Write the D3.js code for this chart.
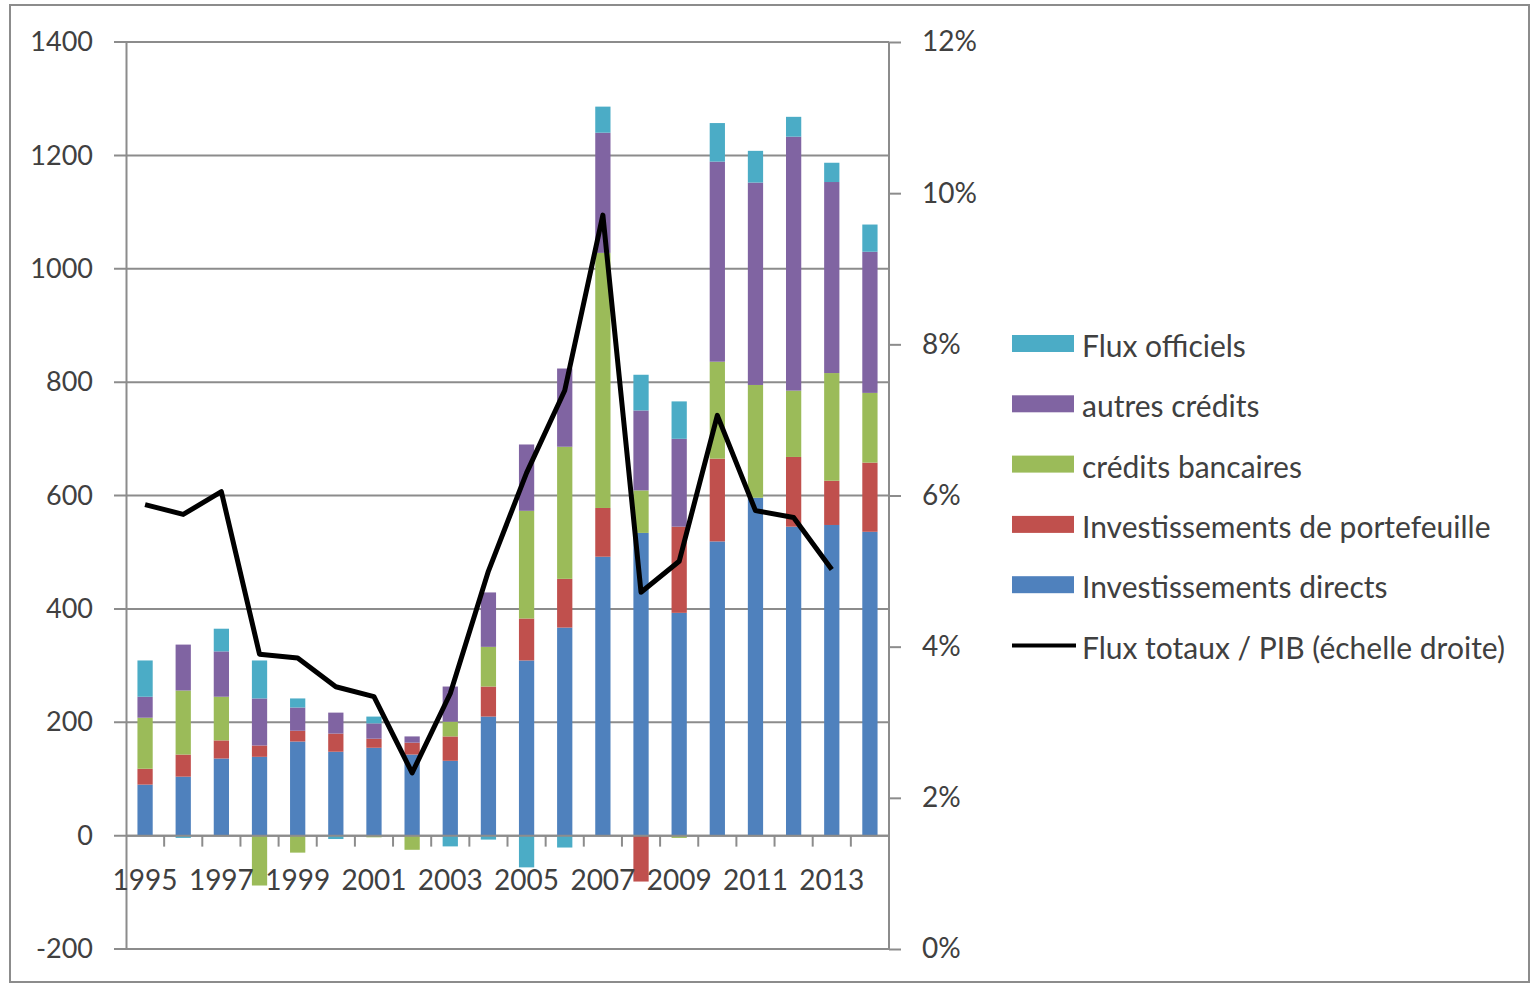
<!DOCTYPE html>
<html>
<head>
<meta charset="utf-8">
<script src="https://cdn.jsdelivr.net/npm/d3@7"></script>
<style>
  body { margin: 0; background: #fff; }
  text { font-family: Lato, "Noto Sans", sans-serif; fill: #404040; }
</style>
</head>
<body>
<div class="chart"></div>
<script>
var svgWidth = 1531;
var svgHeight = 984;

// data
var years = [1995, 1996, 1997, 1998, 1999, 2000, 2001, 2002, 2003, 2004,
             2005, 2006, 2007, 2008, 2009, 2010, 2011, 2012, 2013, 2014];
var directs      = [90, 104, 136, 139, 166, 148, 155, 143, 132, 210, 309, 367, 492, 534, 393, 519, 596, 545, 548, 536];
var portefeuille = [28, 39, 32, 20, 19, 32, 16, 21, 43, 53, 74, 86, 86, -81, 152, 146, 0, 123, 78, 122];
var bancaires    = [90, 113, 77, -88, -30, 0, -3, -25, 26, 70, 190, 233, 450, 75, -4, 171, 199, 117, 190, 123];
var autres       = [37, 81, 80, 83, 41, 37, 27, 11, 62, 96, 117, 138, 212, 141, 155, 353, 357, 448, 337, 249];
var officiels    = [64, -4, 40, 67, 16, -6, 12, 0, -19, -7, -56, -21, 46, 63, 66, 68, 56, 35, 34, 48];
var fluxPib      = [5.88, 5.75, 6.05, 3.9, 3.85, 3.47, 3.34, 2.33, 3.38, 5.0, 6.3, 7.39, 9.71, 4.72, 5.13, 7.06, 5.8, 5.71, 5.02, null];

var seriesKeys = ["directs", "portefeuille", "bancaires", "autres", "officiels"];
var seriesNames = {
    directs: "Investissements directs",
    portefeuille: "Investissements de portefeuille",
    bancaires: "crédits bancaires",
    autres: "autres crédits",
    officiels: "Flux officiels"
};
var colors = {
    directs: "#4F81BD",
    portefeuille: "#C0504D",
    bancaires: "#9BBB59",
    autres: "#8064A2",
    officiels: "#4BACC6"
};
var leftTicks = [-200, 0, 200, 400, 600, 800, 1000, 1200, 1400];
var rightTicks = [0, 2, 4, 6, 8, 10, 12];

var tableData = years.map(function (y, i) {
    return {
        year: y,
        directs: directs[i],
        portefeuille: portefeuille[i],
        bancaires: bancaires[i],
        autres: autres[i],
        officiels: officiels[i],
        pib: fluxPib[i]
    };
});

var plot = { left: 126, right: 889, top: 42, bottom: 949 };
var tickFont = "27px";

var svg = d3.select(".chart")
    .append("svg")
    .attr("width", svgWidth)
    .attr("height", svgHeight);

// outer frame
svg.append("rect")
    .attr("x", 10).attr("y", 5)
    .attr("width", 1519).attr("height", 977)
    .attr("fill", "none")
    .attr("stroke", "#8c8c8c")
    .attr("stroke-width", 2);

var xScale = d3.scaleBand()
    .domain(years)
    .range([plot.left, plot.right])
    .paddingInner(0.6)
    .paddingOuter(0.3);

var yLeft = d3.scaleLinear().domain([-200, 1400]).range([plot.bottom, plot.top]);
var yRight = d3.scaleLinear().domain([0, 12]).range([plot.bottom, plot.top]);

// gridlines
svg.append("g")
    .selectAll("line")
    .data(leftTicks)
    .enter()
    .append("line")
    .attr("x1", plot.left - 12)
    .attr("x2", plot.right)
    .attr("y1", d => yLeft(d))
    .attr("y2", d => yLeft(d))
    .attr("stroke", "#8c8c8c")
    .attr("stroke-width", 2);

// left axis
var leftAxis = d3.axisLeft(yLeft).tickValues(leftTicks).tickSize(0).tickPadding(33)
    .tickFormat(d => String(d));
var leftG = svg.append("g")
    .attr("transform", `translate(${plot.left}, 0)`)
    .call(leftAxis);
leftG.select(".domain").attr("stroke", "#8c8c8c").attr("stroke-width", 2);
leftG.selectAll("text").attr("font-size", tickFont).attr("fill", "#404040")
    .style("font-family", "Lato, 'Noto Sans', sans-serif");

// right axis
var rightAxis = d3.axisRight(yRight).tickValues(rightTicks).tickSize(12).tickPadding(21)
    .tickFormat(d => d + "%");
var rightG = svg.append("g")
    .attr("transform", `translate(${plot.right}, 0)`)
    .call(rightAxis);
rightG.select(".domain").attr("stroke", "#8c8c8c").attr("stroke-width", 2).attr("d", `M0,${plot.top}V${plot.bottom}`);
rightG.selectAll(".tick line").attr("stroke", "#8c8c8c").attr("stroke-width", 2);
rightG.selectAll("text").attr("font-size", "28px").attr("fill", "#404040")
    .style("font-family", "Lato, 'Noto Sans', sans-serif");

// stacked bars
var stack = d3.stack()
    .keys(seriesKeys)
    .offset(d3.stackOffsetDiverging);
var stacked = stack(tableData);

svg.append("g")
    .selectAll("g")
    .data(stacked)
    .enter()
    .append("g")
    .attr("fill", d => colors[d.key])
    .selectAll("rect")
    .data(d => d)
    .enter()
    .append("rect")
    .attr("x", d => xScale(d.data.year))
    .attr("width", xScale.bandwidth())
    .attr("y", d => yLeft(Math.max(d[0], d[1])))
    .attr("height", d => Math.abs(yLeft(d[0]) - yLeft(d[1])));

// category axis at zero
var step = xScale.step();
var gap = (step - xScale.bandwidth()) / 2;
var catG = svg.append("g");
catG.append("line")
    .attr("x1", plot.left).attr("x2", plot.right)
    .attr("y1", yLeft(0)).attr("y2", yLeft(0))
    .attr("stroke", "#8c8c8c").attr("stroke-width", 2);
catG.selectAll(".cat-tick")
    .data(years.slice(1))
    .enter()
    .append("line")
    .attr("class", "cat-tick")
    .attr("x1", d => xScale(d) - gap)
    .attr("x2", d => xScale(d) - gap)
    .attr("y1", yLeft(0))
    .attr("y2", yLeft(0) + 11)
    .attr("stroke", "#8c8c8c").attr("stroke-width", 2);
catG.selectAll("text")
    .data(years.filter((d, i) => i % 2 === 0))
    .enter()
    .append("text")
    .attr("x", d => xScale(d) + xScale.bandwidth() / 2)
    .attr("y", yLeft(0) + 54)
    .attr("text-anchor", "middle")
    .attr("font-size", "28px")
    .text(d => d);

// line on right scale
var line = d3.line()
    .defined(d => d.pib !== null)
    .x(d => xScale(d.year) + xScale.bandwidth() / 2)
    .y(d => yRight(d.pib));

svg.append("path")
    .datum(tableData)
    .attr("d", line)
    .attr("fill", "none")
    .attr("stroke", "#000")
    .attr("stroke-width", 5)
    .attr("stroke-linejoin", "round");

// legend
var legendItems = ["officiels", "autres", "bancaires", "portefeuille", "directs"];
var legend = svg.append("g");
legendItems.forEach(function (k, i) {
    var cy = 344 + i * 60.3;
    legend.append("rect")
        .attr("x", 1012).attr("y", cy - 9)
        .attr("width", 62).attr("height", 17)
        .attr("fill", colors[k]);
    legend.append("text")
        .attr("x", 1082).attr("y", cy + 1)
        .attr("dominant-baseline", "central")
        .attr("font-size", "30px")
        .text(seriesNames[k]);
});
var lineY = 344 + 5 * 60.3;
legend.append("line")
    .attr("x1", 1012).attr("x2", 1076)
    .attr("y1", lineY).attr("y2", lineY)
    .attr("stroke", "#000").attr("stroke-width", 4);
legend.append("text")
    .attr("x", 1082).attr("y", lineY + 1)
    .attr("dominant-baseline", "central")
    .attr("font-size", "30px")
    .text("Flux totaux / PIB (échelle droite)");
</script>
</body>
</html>
